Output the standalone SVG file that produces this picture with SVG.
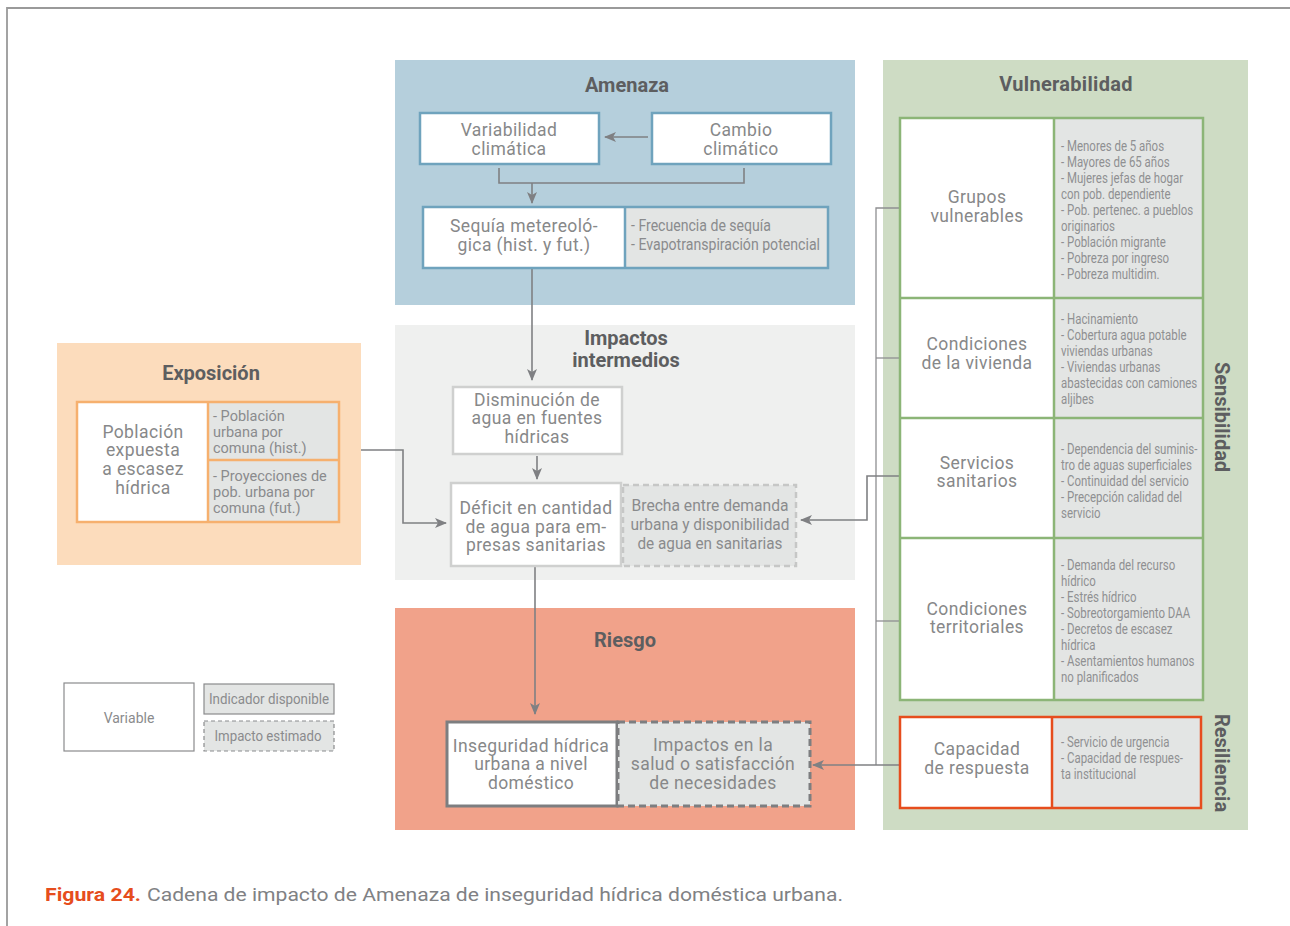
<svg xmlns="http://www.w3.org/2000/svg" width="1290" height="926" viewBox="0 0 1290 926">
<defs>
<marker id="ah" viewBox="0 0 12 10" refX="11" refY="5" markerWidth="12" markerHeight="10" markerUnits="userSpaceOnUse" orient="auto">
<path d="M0,0 L12,5 L0,10 L3,5 z" fill="#7f8083"/>
</marker>
<style>
.title{font-family:Roboto,"Liberation Sans",sans-serif;font-weight:bold;font-size:20px;fill:#5d5e60;text-anchor:middle}
.t{font-family:Roboto,"Liberation Sans",sans-serif;font-size:17.5px;letter-spacing:0.4px;fill:#878889;text-anchor:middle}
.c{font-family:Roboto,"Liberation Sans",sans-serif;font-size:16px;fill:#8a8b8d}
.cm{font-family:Roboto,"Liberation Sans",sans-serif;font-size:16px;fill:#8a8b8d;text-anchor:middle}
.s{font-family:Roboto,"Liberation Sans",sans-serif;font-size:14.5px;fill:#8a8b8d}
.v{font-family:Roboto,"Liberation Sans",sans-serif;font-size:14.5px;fill:#8f9092}
.lg{font-family:Roboto,"Liberation Sans",sans-serif;font-size:14px;fill:#8a8b8d;text-anchor:middle}
.conn{fill:none;stroke:#7f8083;stroke-width:1.6}
.thin{fill:none;stroke:#8e8f91;stroke-width:1.3}
.gray{fill:#e3e5e4}
</style>
</defs>

<!-- frame -->
<path d="M7,926 V8 H1290" fill="none" stroke="#9a9a9a" stroke-width="1.8"/>

<!-- panels -->
<g id="panel-amenaza">
<rect x="395" y="60" width="460" height="245" fill="#b5cfdc"/>
<text class="title" x="627" y="92">Amenaza</text>
</g>
<g id="panel-impactos">
<rect x="395" y="325" width="460" height="255" fill="#eff0ef"/>
<text class="title" x="626" y="345" font-size="18.5">Impactos</text>
<text class="title" x="626" y="367" font-size="18.5">intermedios</text>
</g>
<g id="panel-exposicion">
<rect x="57" y="343" width="304" height="222" fill="#fcdcbc"/>
<text class="title" x="211" y="380">Exposición</text>
</g>
<g id="panel-riesgo">
<rect x="395" y="608" width="460" height="222" fill="#f1a28a"/>
<text class="title" x="625" y="647">Riesgo</text>
</g>
<g id="panel-vulnerabilidad">
<rect x="883" y="60" width="365" height="770" fill="#cedcc4"/>
<text class="title" x="1066" y="91" letter-spacing="0.3">Vulnerabilidad</text>
<text class="title" transform="translate(1215,417) rotate(90)">Sensibilidad</text>
<text class="title" transform="translate(1215,763) rotate(90)">Resiliencia</text>
</g>

<!-- connectors -->
<g id="connectors">
<line class="conn" x1="648" y1="137" x2="605" y2="137" marker-end="url(#ah)"/>
<path class="conn" d="M499,168 V183 H744 V168"/>
<line class="conn" x1="532" y1="183" x2="532" y2="203" marker-end="url(#ah)"/>
<line class="conn" x1="532" y1="268" x2="532" y2="380" marker-end="url(#ah)"/>
<line class="conn" x1="537" y1="456" x2="537" y2="479" marker-end="url(#ah)"/>
<path class="conn" d="M361,450 H403 V523 H446" marker-end="url(#ah)"/>
<line class="conn" x1="535" y1="567" x2="535" y2="714" marker-end="url(#ah)"/>
<path class="thin" d="M900,208 H876 V765"/>
<path class="thin" d="M876,358 H900"/>
<path class="thin" d="M876,621 H900"/>
<path class="conn" d="M900,476 H867 V520 H801" marker-end="url(#ah)"/>
<path class="conn" d="M900,765 H813" marker-end="url(#ah)"/>
</g>

<!-- Amenaza nodes -->
<g id="variabilidad">
<rect x="420" y="113" width="179" height="51" fill="#fff" stroke="#6fa3bd" stroke-width="2.5"/>
<text class="t" x="509" y="136">Variabilidad</text>
<text class="t" x="509" y="155">climática</text>
</g>
<g id="cambio">
<rect x="652" y="113" width="179" height="51" fill="#fff" stroke="#6fa3bd" stroke-width="2.5"/>
<text class="t" x="741" y="136">Cambio</text>
<text class="t" x="741" y="155">climático</text>
</g>
<g id="sequia">
<rect x="423" y="207" width="202" height="61" fill="#fff"/>
<rect x="625" y="207" width="203" height="61" class="gray"/>
<rect x="423" y="207" width="405" height="61" fill="none" stroke="#6fa3bd" stroke-width="2.5"/>
<line x1="625" y1="207" x2="625" y2="268" stroke="#6fa3bd" stroke-width="2.5"/>
<text class="t" x="524" y="232">Sequía metereoló-</text>
<text class="t" x="524" y="251">gica (hist. y fut.)</text>
<text class="c" x="631" y="231" textLength="140" lengthAdjust="spacingAndGlyphs">- Frecuencia de sequía</text>
<text class="c" x="631" y="250" textLength="189" lengthAdjust="spacingAndGlyphs">- Evapotranspiración potencial</text>
</g>

<!-- Impactos intermedios nodes -->
<g id="disminucion">
<rect x="453" y="387" width="169" height="67" fill="#fff" stroke="#cfd0cf" stroke-width="2.5"/>
<text class="t" x="537" y="406">Disminución de</text>
<text class="t" x="537" y="424">agua en fuentes</text>
<text class="t" x="537" y="443">hídricas</text>
</g>
<g id="deficit">
<rect x="451" y="483" width="170" height="83" fill="#fff" stroke="#cfd0cf" stroke-width="2.5"/>
<text class="t" x="536" y="514">Déficit en cantidad</text>
<text class="t" x="536" y="533">de agua para em-</text>
<text class="t" x="536" y="551">presas sanitarias</text>
</g>
<g id="brecha">
<rect x="623" y="485" width="173" height="81" class="gray" stroke="#c6c7c6" stroke-width="2.5" stroke-dasharray="6,4"/>
<text class="cm" x="710" y="511" textLength="157" lengthAdjust="spacingAndGlyphs">Brecha entre demanda</text>
<text class="cm" x="710" y="530" textLength="159" lengthAdjust="spacingAndGlyphs">urbana y disponibilidad</text>
<text class="cm" x="710" y="549" textLength="145" lengthAdjust="spacingAndGlyphs">de agua en sanitarias</text>
</g>

<!-- Exposición node -->
<g id="poblacion">
<rect x="77" y="402" width="131" height="120" fill="#fff"/>
<rect x="208" y="402" width="131" height="120" class="gray"/>
<rect x="77" y="402" width="262" height="120" fill="none" stroke="#f6b06e" stroke-width="2.5"/>
<line x1="208" y1="402" x2="208" y2="522" stroke="#f6b06e" stroke-width="2.5"/>
<line x1="208" y1="460" x2="339" y2="460" stroke="#f6b06e" stroke-width="2.5"/>
<text class="t" x="143" y="438">Población</text>
<text class="t" x="143" y="456">expuesta</text>
<text class="t" x="143" y="475">a escasez</text>
<text class="t" x="143" y="494">hídrica</text>
<text class="s" x="213" y="421">- Población</text>
<text class="s" x="213" y="437">urbana por</text>
<text class="s" x="213" y="453">comuna (hist.)</text>
<text class="s" x="213" y="481">- Proyecciones de</text>
<text class="s" x="213" y="497">pob. urbana por</text>
<text class="s" x="213" y="513">comuna (fut.)</text>
</g>

<!-- Riesgo nodes -->
<g id="inseguridad">
<rect x="447" y="722" width="170" height="84" fill="#fff" stroke="#7d7e80" stroke-width="3"/>
<text class="t" x="531" y="752">Inseguridad hídrica</text>
<text class="t" x="531" y="770">urbana a nivel</text>
<text class="t" x="531" y="789">doméstico</text>
</g>
<g id="impactos-salud">
<rect x="618" y="722" width="192" height="84" class="gray" stroke="#7d7e80" stroke-width="3" stroke-dasharray="7,4"/>
<text class="t" x="713" y="751">Impactos en la</text>
<text class="t" x="713" y="770">salud o satisfacción</text>
<text class="t" x="713" y="789">de necesidades</text>
</g>

<!-- Vulnerabilidad nodes -->
<g id="sensibilidad-tabla">
<rect x="900" y="118" width="154" height="582" fill="#fff"/>
<rect x="1054" y="118" width="149" height="582" class="gray"/>
<rect x="900" y="118" width="303" height="582" fill="none" stroke="#8cb577" stroke-width="2.5"/>
<line x1="1054" y1="118" x2="1054" y2="700" stroke="#8cb577" stroke-width="2.5"/>
<line x1="900" y1="298" x2="1203" y2="298" stroke="#8cb577" stroke-width="2.5"/>
<line x1="900" y1="418" x2="1203" y2="418" stroke="#8cb577" stroke-width="2.5"/>
<line x1="900" y1="538" x2="1203" y2="538" stroke="#8cb577" stroke-width="2.5"/>
</g>
<g id="grupos-vulnerables">
<text class="t" x="977" y="203">Grupos</text>
<text class="t" x="977" y="222">vulnerables</text>
<g transform="translate(1061,0) scale(0.79,1)">
<text class="v" x="0" y="151">- Menores de 5 años</text>
<text class="v" x="0" y="167">- Mayores de 65 años</text>
<text class="v" x="0" y="183">- Mujeres jefas de hogar</text>
<text class="v" x="0" y="199">con pob. dependiente</text>
<text class="v" x="0" y="215">- Pob. pertenec. a pueblos</text>
<text class="v" x="0" y="231">originarios</text>
<text class="v" x="0" y="247">- Población migrante</text>
<text class="v" x="0" y="263">- Pobreza por ingreso</text>
<text class="v" x="0" y="279">- Pobreza multidim.</text>
</g>
</g>
<g id="condiciones-vivienda">
<text class="t" x="977" y="350">Condiciones</text>
<text class="t" x="977" y="369">de la vivienda</text>
<g transform="translate(1061,0) scale(0.79,1)">
<text class="v" x="0" y="324">- Hacinamiento</text>
<text class="v" x="0" y="340">- Cobertura agua potable</text>
<text class="v" x="0" y="356">viviendas urbanas</text>
<text class="v" x="0" y="372">- Viviendas urbanas</text>
<text class="v" x="0" y="388">abastecidas con camiones</text>
<text class="v" x="0" y="404">aljibes</text>
</g>
</g>
<g id="servicios-sanitarios">
<text class="t" x="977" y="469">Servicios</text>
<text class="t" x="977" y="487">sanitarios</text>
<g transform="translate(1061,0) scale(0.79,1)">
<text class="v" x="0" y="454">- Dependencia del suminis-</text>
<text class="v" x="0" y="470">tro de aguas superficiales</text>
<text class="v" x="0" y="486">- Continuidad del servicio</text>
<text class="v" x="0" y="502">- Precepción calidad del</text>
<text class="v" x="0" y="518">servicio</text>
</g>
</g>
<g id="condiciones-territoriales">
<text class="t" x="977" y="615">Condiciones</text>
<text class="t" x="977" y="633">territoriales</text>
<g transform="translate(1061,0) scale(0.79,1)">
<text class="v" x="0" y="570">- Demanda del recurso</text>
<text class="v" x="0" y="586">hídrico</text>
<text class="v" x="0" y="602">- Estrés hídrico</text>
<text class="v" x="0" y="618">- Sobreotorgamiento DAA</text>
<text class="v" x="0" y="634">- Decretos de escasez</text>
<text class="v" x="0" y="650">hídrica</text>
<text class="v" x="0" y="666">- Asentamientos humanos</text>
<text class="v" x="0" y="682">no planificados</text>
</g>
</g>
<g id="capacidad-respuesta">
<rect x="900" y="717" width="152" height="91" fill="#fff"/>
<rect x="1052" y="717" width="149" height="91" class="gray"/>
<rect x="900" y="717" width="301" height="91" fill="none" stroke="#e64d1d" stroke-width="2.5"/>
<line x1="1052" y1="717" x2="1052" y2="808" stroke="#e64d1d" stroke-width="2.5"/>
<text class="t" x="977" y="755">Capacidad</text>
<text class="t" x="977" y="774">de respuesta</text>
<g transform="translate(1061,0) scale(0.79,1)">
<text class="v" x="0" y="747">- Servicio de urgencia</text>
<text class="v" x="0" y="763">- Capacidad de respues-</text>
<text class="v" x="0" y="779">ta institucional</text>
</g>
</g>

<!-- legend -->
<g id="legend-variable">
<rect x="64" y="683" width="130" height="68" fill="#fff" stroke="#8a8b8d" stroke-width="1.2"/>
<text class="lg" x="129" y="723">Variable</text>
</g>
<g id="legend-indicador">
<rect x="204" y="684" width="130" height="30" class="gray" stroke="#8a8b8d" stroke-width="1.2"/>
<text class="lg" x="269" y="704" textLength="120" lengthAdjust="spacingAndGlyphs">Indicador disponible</text>
</g>
<g id="legend-impacto">
<rect x="204" y="721" width="130" height="30" class="gray" stroke="#8a8b8d" stroke-width="1.2" stroke-dasharray="4,3"/>
<text class="lg" x="268" y="741" textLength="107" lengthAdjust="spacingAndGlyphs">Impacto estimado</text>
</g>

<!-- caption -->
<text x="45" y="901" font-family="Roboto,'Liberation Sans',sans-serif" font-size="19" font-weight="bold" fill="#e64d1d" textLength="96" lengthAdjust="spacingAndGlyphs">Figura 24.</text>
<text x="147" y="901" font-family="Roboto,'Liberation Sans',sans-serif" font-size="19" fill="#808184" textLength="696" lengthAdjust="spacingAndGlyphs">Cadena de impacto de Amenaza de inseguridad hídrica doméstica urbana.</text>
</svg>
